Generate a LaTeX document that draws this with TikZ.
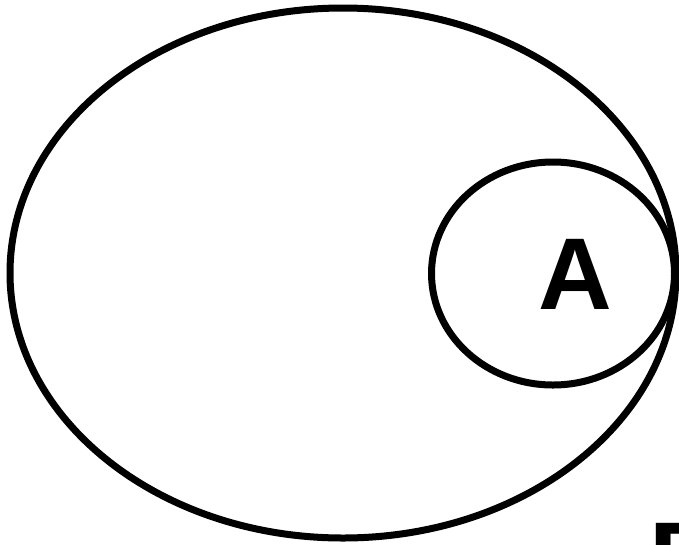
\documentclass[tikz,border=0pt]{standalone}
\usepackage{fontspec}
\setmainfont{Liberation Sans}
\begin{document}
\begin{tikzpicture}[x=1pt,y=-1pt,
  setline/.style={line width=7pt},
  setlabel/.style={inner sep=0pt,font=\fontsize{102}{102}\selectfont\bfseries}]
\useasboundingbox (0,0) rectangle (679,544);
\clip (0,0) rectangle (679,544);
\draw[setline] (343,273) ellipse [x radius=333, y radius=265];
\draw[setline] (553,273.5) ellipse [x radius=121.5, y radius=111.5];
\node[setlabel] (A) at (575,274) {A};
\node[setlabel,anchor=north west] (B) at (649,523) {B};
\end{tikzpicture}
\end{document}
